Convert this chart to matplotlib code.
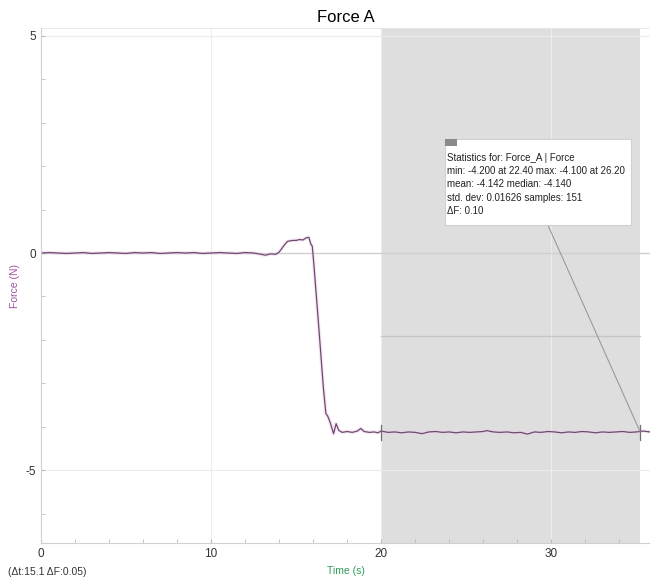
import numpy as np
import matplotlib; matplotlib.use("Agg"); import matplotlib.pyplot as plt
from matplotlib.patches import Rectangle

plt.rcParams['font.family'] = ['Liberation Sans', 'DejaVu Sans']
plt.rcParams['axes.unicode_minus'] = False

# Force sensor trace (s, N)
time_s = [0.0, 0.5, 1.0, 1.5, 2.0, 2.5, 3.0, 3.5, 4.0, 4.5, 5.0, 5.5, 6.0, 6.5, 7.0, 7.5,
          8.0, 8.5, 9.0, 9.5, 10.0, 10.5, 11.0, 11.5, 12.0, 12.5, 12.8, 13.2, 13.5, 13.8,
          14.0, 14.3, 14.5, 14.8, 15.0, 15.2, 15.4, 15.6, 15.75, 15.85, 15.95, 16.05, 16.3,
          16.6, 16.75, 16.85, 17.0, 17.2, 17.35, 17.5, 17.7, 18.0, 18.3, 18.6, 18.8, 19.0,
          19.3, 19.6, 19.8, 20.0, 20.4, 20.8, 21.2, 21.6, 22.0, 22.4, 22.8, 23.2, 23.6, 24.0,
          24.4, 24.8, 25.2, 25.6, 26.0, 26.2, 26.6, 27.0, 27.4, 27.8, 28.2, 28.6, 29.0, 29.4,
          29.8, 30.2, 30.6, 31.0, 31.4, 31.8, 32.2, 32.6, 33.0, 33.4, 33.8, 34.2, 34.6, 35.0,
          35.4, 35.8]
force_n = [0.00, 0.01, 0.00, -0.01, 0.00, 0.01, -0.01, 0.00, 0.01, 0.00, -0.01, 0.01, 0.00,
           0.01, -0.01, 0.00, 0.01, 0.00, 0.01, -0.01, 0.00, 0.01, 0.00, -0.01, 0.01, 0.00,
           -0.02, -0.05, -0.02, -0.03, 0.02, 0.18, 0.27, 0.29, 0.29, 0.31, 0.30, 0.35, 0.36,
           0.22, 0.15, -0.30, -1.55, -3.10, -3.70, -3.75, -3.90, -4.16, -3.93, -4.08, -4.13,
           -4.11, -4.13, -4.10, -4.04, -4.11, -4.13, -4.12, -4.14, -4.10, -4.13, -4.12, -4.14,
           -4.12, -4.13, -4.16, -4.12, -4.11, -4.13, -4.12, -4.14, -4.12, -4.13, -4.12, -4.11,
           -4.09, -4.12, -4.13, -4.12, -4.14, -4.13, -4.17, -4.12, -4.13, -4.11, -4.12, -4.14,
           -4.12, -4.13, -4.11, -4.12, -4.14, -4.12, -4.13, -4.12, -4.11, -4.13, -4.12, -4.10,
           -4.12]

sel_start, sel_end = 20.0, 35.2
stats_lines = ["Statistics for: Force_A | Force",
               "min: -4.200 at 22.40 max: -4.100 at 26.20",
               "mean: -4.142 median: -4.140",
               "std. dev: 0.01626 samples: 151",
               "\u0394F: 0.10"]

fig = plt.figure(figsize=(6.5, 5.84), dpi=100)
ax = fig.add_axes([0.063, 0.070, 0.937, 0.882])
ax.set_xlim(0, 35.8); ax.set_ylim(-6.68, 5.18)

ax.axvspan(sel_start, sel_end, color="#dedede", zorder=0, lw=0)
for x in (10, 20, 30):
    ax.axvline(x, color="#ededed", lw=0.8, zorder=0.5)
ax.axhline(5, color="#ebebeb", lw=0.8, zorder=0.5)
ax.axhline(-5, color="#ebebeb", lw=0.8, zorder=0.5)
ax.axhline(0, color="#cfcfcf", lw=1.0, zorder=0.5)
ax.plot([sel_start, sel_end], [-1.91, -1.91], color="#c6c6c6", lw=1.0, zorder=0.6)

ax.plot(time_s, force_n, color="#ecd0ec", lw=2.6, alpha=0.5, zorder=1)
ax.plot(time_s, force_n, color="#6e4a6e", lw=0.9, zorder=2)

# selection brackets
for x in (sel_start, sel_end):
    ax.plot([x, x], [-3.95, -4.3], color="#707070", lw=0.9, zorder=3)

# statistics box
ax.add_patch(Rectangle((23.73, 0.645), 10.98, 1.985, facecolor="white",
                       edgecolor="#d0d0d0", lw=0.8, zorder=4))
ax.add_patch(Rectangle((23.73, 2.455), 0.7, 0.16, facecolor="#8a8a8a", lw=0, zorder=5))
for i, line in enumerate(stats_lines):
    ax.text(23.85, 2.19 - i * 0.305, line, fontsize=7, color="#222222",
            va="center", ha="left", zorder=5)
ax.plot([29.8, sel_end], [0.645, -4.1], color="#9a9a9a", lw=0.8, zorder=3)

ax.set_xticks([0, 10, 20, 30]); ax.set_yticks([-5, 0, 5])
ax.set_xticks(np.arange(0, 36, 2), minor=True); ax.set_yticks(np.arange(-6, 6, 1), minor=True)
ax.tick_params(which="both", direction="in", color="#bbbbbb", labelsize=8.5, labelcolor="#333333")
ax.tick_params(which="major", length=3); ax.tick_params(which="minor", length=3)
for s in ("top", "right"):
    ax.spines[s].set_visible(False)
for s in ("left", "bottom"):
    ax.spines[s].set_color("#d0d0d0")
ax.axhline(5.18, color="#e6e6e6", lw=1.2, zorder=0.5)

ax.set_title("Force A", fontsize=12, pad=4)
ax.set_ylabel("Force (N)", fontsize=7.5, color="#a050a0", labelpad=4)
ax.set_xlabel("Time (s)", fontsize=7.5, color="#2e9a5a", labelpad=4)
fig.text(0.012, 0.015, "(\u0394t:15.1 \u0394F:0.05)", fontsize=7.5, color="#333333")

fig.savefig("out.png", dpi=100)
